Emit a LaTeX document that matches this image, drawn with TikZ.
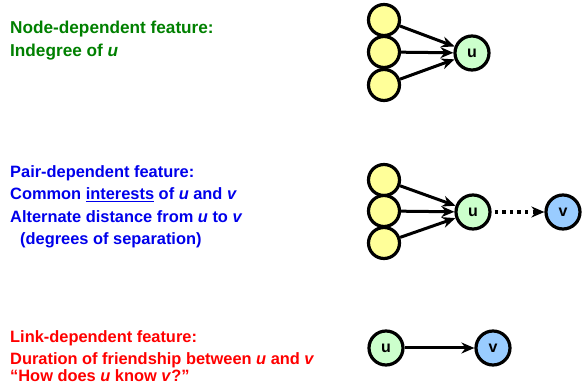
\documentclass[tikz,border=0pt]{standalone}
\usepackage{fontspec}
\setmainfont{Liberation Sans}
\usetikzlibrary{arrows.meta}
\definecolor{tgreen}{RGB}{0,128,0}
\definecolor{tblue}{RGB}{0,0,235}
\definecolor{tred}{RGB}{255,0,0}
\definecolor{fyellow}{RGB}{255,255,153}
\definecolor{fgreen}{RGB}{204,255,204}
\definecolor{fblue}{RGB}{153,204,255}
\begin{document}
\begin{tikzpicture}[x=1pt,y=-1pt,
  txt/.style={anchor=base west,inner sep=0pt,font=\fontsize{17.2}{20}\selectfont\bfseries},
  stxt/.style={anchor=base west,inner sep=0pt,font=\fontsize{16.4}{20}\selectfont\bfseries},
  nd/.style={circle,draw=black,line width=3.2pt,minimum size=31pt,inner sep=0pt,font=\fontsize{16}{18}\selectfont\bfseries},
  ynd/.style={nd,fill=fyellow},
  gnd/.style={nd,fill=fgreen,minimum size=34pt},
  bnd/.style={nd,fill=fblue,minimum size=34pt},
  arr/.style={line width=3pt,-{Stealth[length=13pt,width=11pt]}},
  darr/.style={line width=3.4pt,dash pattern=on 3.4pt off 4.2pt,-{Stealth[length=13pt,width=11pt]},shorten <=3pt}
]
\useasboundingbox (0,0) rectangle (582,390);
% texts
\node[txt,text=tgreen] (t1) at (10,34) {Node-dependent feature:};
\node[txt,text=tgreen] (t2) at (10,57) {Indegree of \textit{u}};
\node[stxt,text=tblue] (t3) at (10,178) {Pair-dependent feature:};
\node[stxt,text=tblue] (t4) at (10,200) {Common \underline{interests} of \textit{u} and \textit{v}};
\node[stxt,text=tblue] (t5) at (10,223) {Alternate distance from \textit{u} to \textit{v}};
\node[stxt,text=tblue] (t6) at (20,245) {(degrees of separation)};
\node[stxt,text=tred] (t7) at (10,343) {Link-dependent feature:};
\node[stxt,text=tred] (t8) at (10,365) {Duration of friendship between \textit{u} and \textit{v}};
\node[stxt,text=tred] (t9) at (10,382) {“How does \textit{u} know \textit{v}?”};
% top graph
\node[ynd] (a1) at (384,20) {};
\node[ynd] (a2) at (384,52) {};
\node[ynd] (a3) at (384,85) {};
\node[gnd] (u1) at (472,53) {u};
\draw[arr] (a1) -- (u1);
\draw[arr] (a2) -- (u1);
\draw[arr] (a3) -- (u1);
% middle graph
\node[ynd] (b1) at (384,180) {};
\node[ynd] (b2) at (384,211) {};
\node[ynd] (b3) at (384,243) {};
\node[gnd] (u2) at (473,212) {u};
\node[bnd] (v2) at (563,212) {v};
\draw[arr] (b1) -- (u2);
\draw[arr] (b2) -- (u2);
\draw[arr] (b3) -- (u2);
\draw[darr] (u2) -- (v2);
% bottom graph
\node[gnd] (u3) at (386,348) {u};
\node[bnd] (v3) at (493,348) {v};
\draw[arr] (u3) -- (v3);
\end{tikzpicture}
\end{document}
